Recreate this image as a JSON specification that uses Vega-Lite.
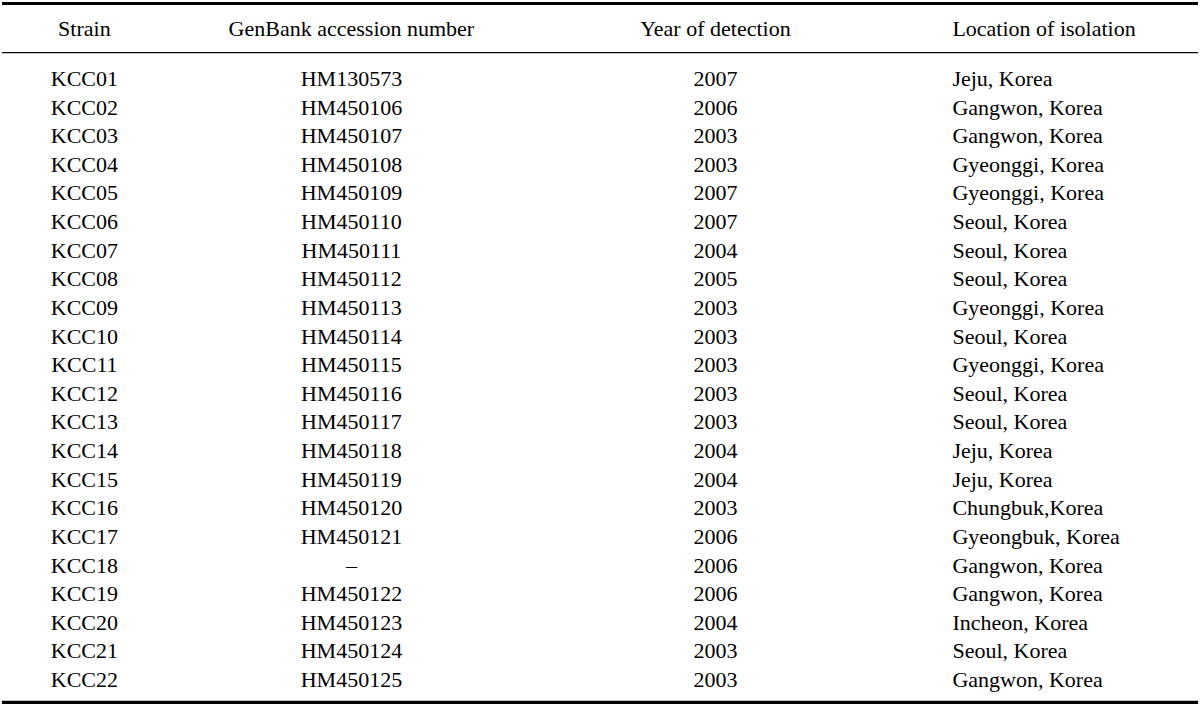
{
  "$schema": "https://vega.github.io/schema/vega-lite/v6.json",
  "width": 1200,
  "height": 708,
  "autosize": {"type": "fit", "contains": "padding"},
  "padding": 0,
  "background": "white",
  "config": {"view": {"stroke": null}, "text": {"font": "Liberation Serif", "fontSize": 22, "color": "#000000"}},
  "datasets": {
    "rows": [
      {"row": 1, "Strain": "KCC01", "GenBank accession number": "HM130573", "Year of detection": "2007", "Location of isolation": "Jeju, Korea"},
      {"row": 2, "Strain": "KCC02", "GenBank accession number": "HM450106", "Year of detection": "2006", "Location of isolation": "Gangwon, Korea"},
      {"row": 3, "Strain": "KCC03", "GenBank accession number": "HM450107", "Year of detection": "2003", "Location of isolation": "Gangwon, Korea"},
      {"row": 4, "Strain": "KCC04", "GenBank accession number": "HM450108", "Year of detection": "2003", "Location of isolation": "Gyeonggi, Korea"},
      {"row": 5, "Strain": "KCC05", "GenBank accession number": "HM450109", "Year of detection": "2007", "Location of isolation": "Gyeonggi, Korea"},
      {"row": 6, "Strain": "KCC06", "GenBank accession number": "HM450110", "Year of detection": "2007", "Location of isolation": "Seoul, Korea"},
      {"row": 7, "Strain": "KCC07", "GenBank accession number": "HM450111", "Year of detection": "2004", "Location of isolation": "Seoul, Korea"},
      {"row": 8, "Strain": "KCC08", "GenBank accession number": "HM450112", "Year of detection": "2005", "Location of isolation": "Seoul, Korea"},
      {"row": 9, "Strain": "KCC09", "GenBank accession number": "HM450113", "Year of detection": "2003", "Location of isolation": "Gyeonggi, Korea"},
      {"row": 10, "Strain": "KCC10", "GenBank accession number": "HM450114", "Year of detection": "2003", "Location of isolation": "Seoul, Korea"},
      {"row": 11, "Strain": "KCC11", "GenBank accession number": "HM450115", "Year of detection": "2003", "Location of isolation": "Gyeonggi, Korea"},
      {"row": 12, "Strain": "KCC12", "GenBank accession number": "HM450116", "Year of detection": "2003", "Location of isolation": "Seoul, Korea"},
      {"row": 13, "Strain": "KCC13", "GenBank accession number": "HM450117", "Year of detection": "2003", "Location of isolation": "Seoul, Korea"},
      {"row": 14, "Strain": "KCC14", "GenBank accession number": "HM450118", "Year of detection": "2004", "Location of isolation": "Jeju, Korea"},
      {"row": 15, "Strain": "KCC15", "GenBank accession number": "HM450119", "Year of detection": "2004", "Location of isolation": "Jeju, Korea"},
      {"row": 16, "Strain": "KCC16", "GenBank accession number": "HM450120", "Year of detection": "2003", "Location of isolation": "Chungbuk,Korea"},
      {"row": 17, "Strain": "KCC17", "GenBank accession number": "HM450121", "Year of detection": "2006", "Location of isolation": "Gyeongbuk, Korea"},
      {"row": 18, "Strain": "KCC18", "GenBank accession number": "–", "Year of detection": "2006", "Location of isolation": "Gangwon, Korea"},
      {"row": 19, "Strain": "KCC19", "GenBank accession number": "HM450122", "Year of detection": "2006", "Location of isolation": "Gangwon, Korea"},
      {"row": 20, "Strain": "KCC20", "GenBank accession number": "HM450123", "Year of detection": "2004", "Location of isolation": "Incheon, Korea"},
      {"row": 21, "Strain": "KCC21", "GenBank accession number": "HM450124", "Year of detection": "2003", "Location of isolation": "Seoul, Korea"},
      {"row": 22, "Strain": "KCC22", "GenBank accession number": "HM450125", "Year of detection": "2003", "Location of isolation": "Gangwon, Korea"}
    ],
    "headers": [
      {"col": "Strain", "idx": 1},
      {"col": "GenBank accession number", "idx": 2},
      {"col": "Year of detection", "idx": 3},
      {"col": "Location of isolation", "idx": 4}
    ]
  },
  "layer": [
    {
      "data": {"values": [{}]},
      "mark": {"type": "rule", "strokeWidth": 3.2, "color": "#000000"},
      "encoding": {"y": {"datum": -1.883, "type": "quantitative", "scale": {"domain": [1, 22], "range": [86, 687], "zero": false, "nice": false}, "axis": null}}
    },
    {
      "data": {"values": [{}]},
      "mark": {"type": "rule", "strokeWidth": 1.2, "color": "#000000"},
      "encoding": {"y": {"datum": -0.163, "type": "quantitative"}}
    },
    {
      "data": {"values": [{}]},
      "mark": {"type": "rule", "strokeWidth": 3.2, "color": "#000000"},
      "encoding": {"y": {"datum": 22.54, "type": "quantitative"}}
    },
    {
      "data": {"name": "headers"},
      "transform": [{"filter": "datum.idx < 4"}],
      "mark": {"type": "text", "align": "center", "baseline": "alphabetic"},
      "encoding": {
        "x": {"field": "idx", "type": "quantitative", "scale": {"domain": [1, 2, 3, 4], "range": [82.4, 349.4, 713.4, 950.4], "zero": false, "nice": false}, "axis": null},
        "y": {"datum": -0.73, "type": "quantitative"},
        "text": {"field": "col", "type": "nominal"}
      }
    },
    {
      "data": {"name": "headers"},
      "transform": [{"filter": "datum.idx === 4"}],
      "mark": {"type": "text", "align": "left", "baseline": "alphabetic"},
      "encoding": {
        "x": {"field": "idx", "type": "quantitative"},
        "y": {"datum": -0.73, "type": "quantitative"},
        "text": {"field": "col", "type": "nominal"}
      }
    },
    {
      "data": {"name": "rows"},
      "transform": [
        {"fold": ["Strain", "GenBank accession number", "Year of detection"], "as": ["col", "val"]},
        {"lookup": "col", "from": {"data": {"name": "headers"}, "key": "col", "fields": ["idx"]}}
      ],
      "mark": {"type": "text", "align": "center", "baseline": "alphabetic"},
      "encoding": {
        "x": {"field": "idx", "type": "quantitative"},
        "y": {"field": "row", "type": "quantitative"},
        "text": {"field": "val", "type": "nominal"}
      }
    },
    {
      "data": {"name": "rows"},
      "transform": [
        {"fold": ["Location of isolation"], "as": ["col", "val"]},
        {"lookup": "col", "from": {"data": {"name": "headers"}, "key": "col", "fields": ["idx"]}}
      ],
      "mark": {"type": "text", "align": "left", "baseline": "alphabetic"},
      "encoding": {
        "x": {"field": "idx", "type": "quantitative"},
        "y": {"field": "row", "type": "quantitative"},
        "text": {"field": "val", "type": "nominal"}
      }
    }
  ]
}
